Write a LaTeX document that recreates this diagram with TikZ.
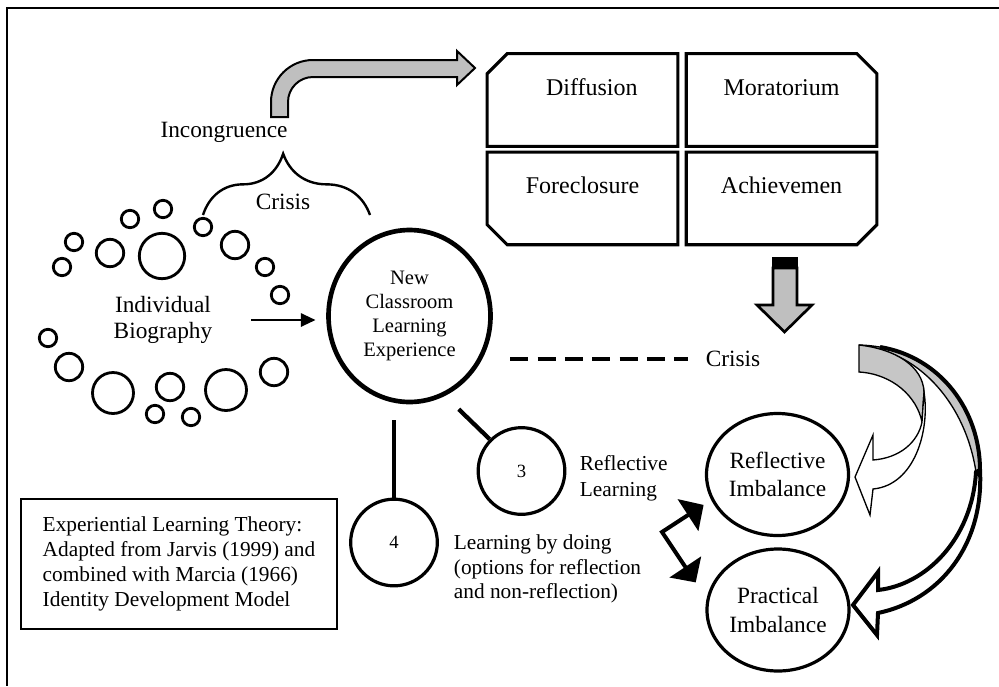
\documentclass[tikz,border=0pt]{standalone}
\usepackage{fontspec}
\setmainfont{Liberation Serif}
\usepackage{tikz}
\usetikzlibrary{shapes.geometric, shapes.misc, arrows.meta, positioning, decorations.pathreplacing, calc}

\begin{document}
\begin{tikzpicture}[
    x=0.75pt, y=-0.75pt,
    txt/.style = {font=\fontsize{17.5}{19}\selectfont, inner sep=2pt, align=center},
    small/.style = {font=\fontsize{16}{18.4}\selectfont, inner sep=2pt, align=left},
    bubble/.style = {circle, draw, line width=2.1pt, inner sep=0pt, minimum size=#1*1.5pt},
    newexp/.style = {ellipse, draw, line width=3.5pt, minimum width=121.5pt, minimum height=129pt, inner sep=0pt, align=center, font=\fontsize{15.4}{18}\selectfont},
    numcirc/.style = {circle, draw, line width=2.4pt, minimum size=65pt, inner sep=0pt, font=\fontsize{14}{16}\selectfont},
    imbal/.style = {ellipse, draw, line width=2.4pt, minimum width=106.5pt, minimum height=91.5pt, inner sep=0pt, align=center, font=\fontsize{17.5}{21.5}\selectfont},
    idbox/.style = {chamfered rectangle, chamfered rectangle corners=#1, chamfered rectangle xsep=7.5pt, chamfered rectangle ysep=7.5pt, draw, line width=2.3pt, minimum width=143pt, minimum height=69.5pt, inner sep=0pt, text height=12pt, text depth=19pt, font=\fontsize{18}{20}\selectfont},
    stem/.style = {line width=3.2pt},
    arrow/.style = {line width=1.5pt, -{Triangle[length=11pt, width=10pt]}},
    dblarrow/.style = {line width=3pt, {Triangle[length=14pt, width=28pt]}-{Triangle[length=14pt, width=28pt]}},
    blockarrow/.style = {draw, line width=1.5pt, fill=gray!50}
]
\useasboundingbox (0,0) rectangle (999,686);

% frame
\draw[line width=1.7pt] (999,8) -- (7,8) -- (7,686);

% identity statuses (Marcia)
\node (diff) [idbox=north west] at (582.5,100) {\hspace*{14pt}Diffusion};
\node (mora) [idbox=north east, right=4pt of diff] {Moratorium};
\node (fore) [idbox=south west, below=2pt of diff] {Foreclosure};
\node (achv) [idbox=south east, below=2pt of mora] {Achievemen};

% bent block arrow to the statuses
\draw[blockarrow] (271,117) -- (271,102) arc[start angle=180, end angle=90, radius=31.5pt]
    -- (457,60) -- (457,51) -- (475,68) -- (457,85) -- (457,77) -- (313,77)
    arc[start angle=90, end angle=180, radius=18.75pt] -- (288,117) -- cycle;

% block arrow down from the statuses
\draw[blockarrow, line width=2pt] (773,268) -- (773,305) -- (757,305) -- (784.5,332) -- (812,305) -- (797,305) -- (797,268) -- cycle;
\filldraw[line width=2pt] (773,258) rectangle (797,268);

% crisis brace
\draw[line width=1.8pt, decorate, decoration={brace, amplitude=46pt, aspect=0.48}] (203,215) -- (370,215);
\node (incong) [txt] at (224,132) {Incongruence};
\node (crisisL) [txt] at (283,202) {Crisis};

% biography bubbles
\node (b1) [bubble=8.7] at (74,242) {};
\node (b2) [bubble=8.7] at (62,267) {};
\node (b3) [bubble=13.7] at (110,253) {};
\node (b4) [bubble=22.7] at (162,256) {};
\node (b5) [bubble=8.7] at (130,219) {};
\node (b6) [bubble=8.7] at (163,209) {};
\node (b7) [bubble=8.7] at (203,227) {};
\node (b8) [bubble=13.7] at (235,245) {};
\node (b9) [bubble=8.7] at (265,267) {};
\node (b10) [bubble=8.7] at (280,295) {};
\node (b11) [bubble=8.7] at (48,338) {};
\node (b12) [bubble=13.7] at (69,367) {};
\node (b13) [bubble=20.5] at (113,393) {};
\node (b14) [bubble=13.7] at (170,387) {};
\node (b15) [bubble=8.7] at (155,414) {};
\node (b16) [bubble=8.7] at (191,417) {};
\node (b17) [bubble=20.5] at (226,390) {};
\node (b18) [bubble=13.7] at (274,372) {};

\node (bio) [txt] at (163,320) {Individual\\Biography};
\node (newcl) [newexp] at (409.5,316) {New\\Classroom\\Learning\\Experience};
\draw[arrow, shorten <=27pt, shorten >=8pt] (bio.east) -- (bio.east -| newcl.west);

% crisis line
\node (crisisR) [txt] at (733,359) {Crisis};
\draw[line width=3pt, dash pattern=on 13.5pt off 7pt, shorten <=13pt, shorten >=11pt] (newcl.east |- crisisR) -- (crisisR.west);

% learning routes
\node (c4) [numcirc] at (394,542.5) {4};
\node (c3) [numcirc] at (521.5,471) {3};
\draw[stem] (c4.north) -- ++(0,-78);
\draw[stem] (c3.135) -- ++(-31,-30);
\node (refllab) [small, anchor=west, font=\fontsize{16}{19.5}\selectfont] at (577,478) {Reflective\\Learning};
\node (doing) [small, anchor=west] at (451,569) {Learning by doing\\(options for reflection\\and non-reflection)};

% imbalances
\node (refl) [imbal] at (777.5,474.5) {Reflective\\Imbalance};
\node (pract) [imbal] at (778,610) {Practical\\Imbalance};
\coordinate (elb) at (662,532);
\draw[dblarrow, shorten <=6.8pt, shorten >=14.7pt] (refl.201) -- (elb) -- (pract.171);

% curved arrows from crisis
\draw[line width=1pt, fill=gray!45] (859,345) .. controls (935,347) and (980,405) .. (980,470)
    -- (976,472) .. controls (968,420) and (940,380) .. (905,360) .. controls (890,352) and (875,347) .. (859,345);
\draw[line width=3pt] (880,347) .. controls (940,357) and (980,410) .. (980,470);
\draw[line width=3pt, fill=white] (980,470) .. controls (984,545) and (940,600) .. (878,613) -- (877,635) -- (853,605)
    -- (878,572) -- (878,590) .. controls (925,585) and (972,540) .. (976,472) -- cycle;
\draw[line width=1pt, fill=gray!45] (859,345) .. controls (895,349) and (923,366) .. (924,392) -- (922,422)
    .. controls (917,397) and (893,374) .. (859,372) -- cycle;
\draw[line width=1pt, fill=white] (924,392) .. controls (930,430) and (915,485) .. (873,489) -- (870,515) -- (855,477)
    -- (873,435) -- (873,460) .. controls (900,458) and (918,442) .. (922,422) -- cycle;

% note
\node (note) [draw, line width=1pt, minimum width=237pt, minimum height=97.5pt, small, font=\fontsize{16}{18.75}\selectfont] at (179,564) {Experiential Learning Theory:\\Adapted from Jarvis (1999) and\\combined with Marcia (1966)\\Identity Development Model};

\end{tikzpicture}
\end{document}
